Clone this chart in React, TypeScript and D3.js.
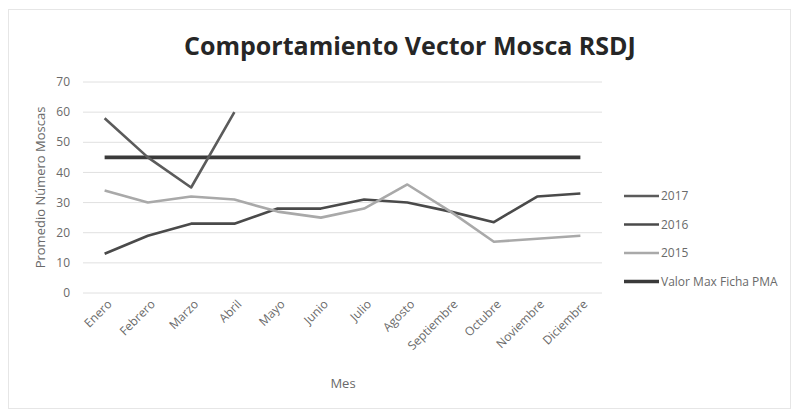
import React from "react";
import * as d3 from "d3";

const months = ["Enero","Febrero","Marzo","Abril","Mayo","Junio","Julio","Agosto","Septiembre","Octubre","Noviembre","Diciembre"];
const s2017: (number | null)[] = [58, 45, 35, 60, null, null, null, null, null, null, null, null];
const s2016: (number | null)[] = [13, 19, 23, 23, 28, 28, 31, 30, 27, 23.5, 32, 33];
const s2015: (number | null)[] = [34, 30, 32, 31, 27, 25, 28, 36, 27, 17, 18, 19];
const sMax: (number | null)[] = [45, 45, 45, 45, 45, 45, 45, 45, 45, 45, 45, 45];
const yTicks = [0, 10, 20, 30, 40, 50, 60, 70];

const series = [
  { name: "2017", values: s2017, color: "#5b5b5b", width: 2.6 },
  { name: "2016", values: s2016, color: "#4a4a4a", width: 2.6 },
  { name: "2015", values: s2015, color: "#a9a9a9", width: 2.6 },
  { name: "Valor Max Ficha PMA", values: sMax, color: "#3a3a3a", width: 3.6 },
];
const drawOrder = [3, 1, 2, 0];

const FONT = "'Open Sans', 'Liberation Sans', sans-serif";

export default function App() {
  const W = 792, H = 411;
  const left = 83, right = 602, top = 82, bottom = 293;
  const x = d3.scalePoint<string>().domain(months).range([left, right]).padding(0.5);
  const y = d3.scaleLinear().domain([0, 70]).range([bottom, top]);
  const line = d3.line<number | null>()
    .defined((d) => d !== null)
    .x((_, i) => x(months[i]) as number)
    .y((d) => y(d as number));

  return (
    <svg width={W} height={H} style={{ position: "absolute", left: 0, top: 0, background: "#fff" }}>
      <rect x={8.5} y={9.5} width={W - 10} height={H - 12} fill="#fff" stroke="#e6e6e6" />
      <text x={410} y={55} textAnchor="middle" fontFamily={FONT} fontWeight="bold" fontSize={25} fill="#262626">
        Comportamiento Vector Mosca RSDJ
      </text>
      {yTicks.map((t) => (
        <g key={t}>
          <line x1={left} x2={right} y1={y(t)} y2={y(t)} stroke="#e0e0e0" strokeWidth={1} />
          <text x={70} y={y(t)} dy="0.35em" textAnchor="end" fontFamily={FONT} fontSize={12} fill="#6a6a6a">
            {t}
          </text>
        </g>
      ))}
      <text transform={`translate(45,${(top + bottom) / 2}) rotate(-90)`} textAnchor="middle" fontFamily={FONT} fontSize={13} fill="#6a6a6a">
        Promedio Número Moscas
      </text>
      {drawOrder.map((i) => {
        const s = series[i];
        return (
          <path key={s.name} d={line(s.values) || ""} fill="none" stroke={s.color} strokeWidth={s.width} strokeLinejoin="round" />
        );
      })}
      {months.map((m) => (
        <text key={m} transform={`translate(${(x(m) as number) + 8},${bottom + 12}) rotate(-45)`} textAnchor="end" fontFamily={FONT} fontSize={12} fill="#6a6a6a">
          {m}
        </text>
      ))}
      <text x={343} y={388} textAnchor="middle" fontFamily={FONT} fontSize={13} fill="#6a6a6a">Mes</text>
      {series.map((s, i) => {
        const ly = 196 + i * 28.5;
        return (
          <g key={s.name}>
            <line x1={624} x2={659} y1={ly} y2={ly} stroke={s.color} strokeWidth={s.width} />
            <text x={661} y={ly} dy="0.35em" fontFamily={FONT} fontSize={12} fill="#6a6a6a">{s.name}</text>
          </g>
        );
      })}
    </svg>
  );
}
